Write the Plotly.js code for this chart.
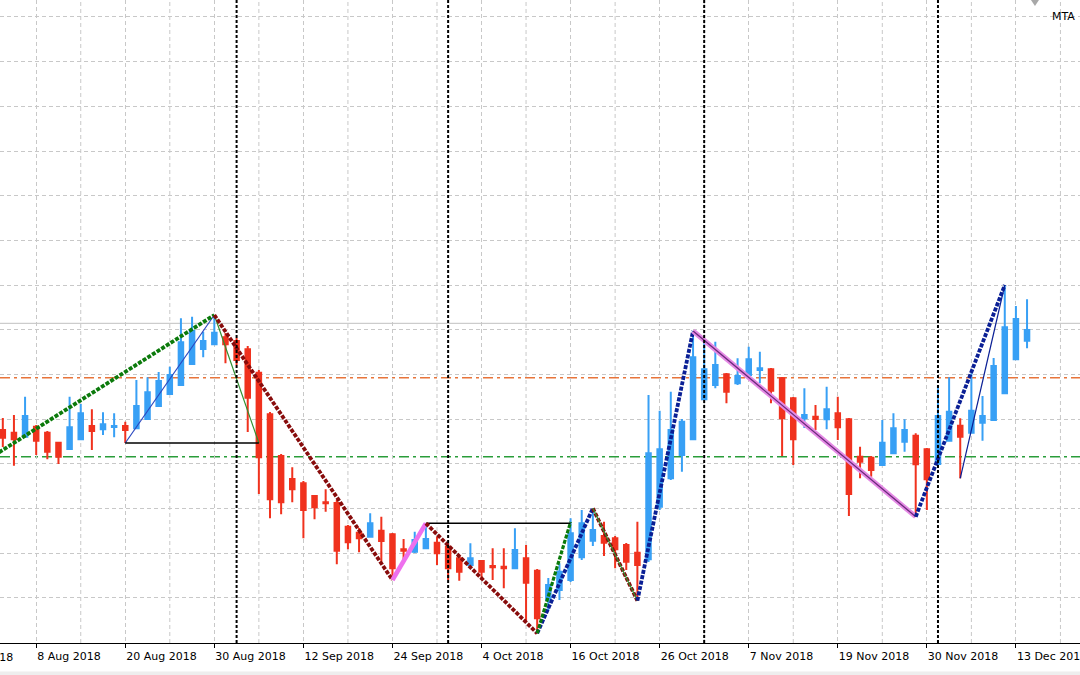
<!DOCTYPE html>
<html><head><meta charset="utf-8">
<script src="https://cdn.plot.ly/plotly-3.0.1.min.js"></script>
<style>html,body{margin:0;padding:0;background:#fff;}#chart{width:1080px;height:675px;}</style>
</head><body><div id="chart"></div>
<script>
// trading days (category axis)
const categories = ['2018-07-27','2018-07-30','2018-07-31','2018-08-01','2018-08-02',
'2018-08-03','2018-08-06','2018-08-07','2018-08-08','2018-08-09','2018-08-10','2018-08-13','2018-08-14','2018-08-15','2018-08-16','2018-08-17',
'2018-08-20','2018-08-21','2018-08-22','2018-08-23','2018-08-24','2018-08-27','2018-08-28','2018-08-29','2018-08-30','2018-08-31',
'2018-09-04','2018-09-05','2018-09-06','2018-09-07','2018-09-10','2018-09-11','2018-09-12','2018-09-13','2018-09-14','2018-09-17',
'2018-09-18','2018-09-19','2018-09-20','2018-09-21','2018-09-24','2018-09-25','2018-09-26','2018-09-27','2018-09-28','2018-10-01',
'2018-10-02','2018-10-03','2018-10-04','2018-10-05','2018-10-08','2018-10-09','2018-10-10','2018-10-11','2018-10-12','2018-10-15',
'2018-10-16','2018-10-17','2018-10-18','2018-10-19','2018-10-22','2018-10-23','2018-10-24','2018-10-25','2018-10-26','2018-10-29',
'2018-10-30','2018-10-31','2018-11-01','2018-11-02','2018-11-05','2018-11-06','2018-11-07','2018-11-08','2018-11-09','2018-11-12',
'2018-11-13','2018-11-14','2018-11-15','2018-11-16','2018-11-19','2018-11-20','2018-11-21','2018-11-23','2018-11-26','2018-11-27',
'2018-11-28','2018-11-29','2018-11-30','2018-12-03','2018-12-04','2018-12-06','2018-12-07','2018-12-10','2018-12-11','2018-12-12',
'2018-12-13','2018-12-14'];

const candleDates = categories.slice(5);

const openVals = [5.700,5.673,5.633,5.733,5.673,5.573,5.510,5.607,5.740,5.707,5.730,5.740,5.717,5.810,5.940,6.060,6.150,6.360,6.510,6.557,
6.627,6.590,6.507,6.273,5.857,5.440,5.210,5.167,5.040,4.977,4.970,4.733,4.673,4.633,4.693,4.657,4.507,4.483,4.517,4.573,
4.533,4.417,4.350,4.390,4.340,4.333,4.317,4.417,4.293,4.000,4.100,4.200,4.427,4.593,4.640,4.617,4.550,4.473,4.407,4.933,
5.217,5.450,5.607,6.007,6.150,6.257,6.167,6.250,6.300,6.307,6.217,6.017,5.817,5.833,5.807,5.867,5.807,5.433,5.423,5.350,
5.467,5.583,5.643,5.507,5.360,5.593,5.743,5.673,5.773,5.800,6.067,6.407,6.593];

const highVals = [5.820,5.850,6.033,5.750,5.690,5.583,6.033,5.960,5.907,5.877,5.867,5.783,6.200,6.227,6.280,6.333,6.817,6.833,6.683,6.850,
6.670,6.620,6.540,6.300,5.880,5.460,5.327,5.190,5.050,5.107,5.000,4.750,4.720,4.867,4.833,4.670,4.610,4.683,4.767,4.633,
4.550,4.450,4.567,4.400,4.517,4.517,4.717,4.550,4.310,4.220,4.367,4.817,4.900,4.917,4.783,4.640,4.570,4.783,6.050,5.893,
6.083,5.810,6.690,6.580,6.583,6.270,6.417,6.533,6.483,6.320,6.230,6.030,6.117,5.950,6.133,6.033,5.820,5.533,5.440,5.800,
5.867,5.807,5.667,5.520,6.140,6.227,5.817,6.267,6.040,6.420,7.150,6.940,7.007];

const lowVals = [5.530,5.343,5.630,5.450,5.407,5.360,5.505,5.600,5.500,5.650,5.627,5.570,5.710,5.805,5.935,6.055,6.145,6.355,6.427,6.550,
6.367,6.350,5.680,5.060,4.817,4.857,4.977,4.617,4.807,4.883,4.357,4.507,4.477,4.630,4.383,4.200,4.400,4.470,4.510,4.350,
4.200,4.193,4.340,4.200,4.200,4.117,4.310,3.783,3.667,3.900,4.000,4.180,4.400,4.540,4.440,4.317,4.300,3.993,4.380,4.900,
5.200,5.283,5.600,6.000,6.117,5.967,6.150,6.240,6.167,5.967,5.440,5.350,5.720,5.700,5.707,5.600,4.840,5.217,5.233,5.340,
5.460,5.483,4.833,4.900,5.340,5.590,5.217,5.670,5.593,5.795,6.060,6.400,6.517];

const closeVals = [5.623,5.607,5.840,5.593,5.483,5.433,5.727,5.867,5.690,5.757,5.740,5.700,5.940,6.077,6.190,6.250,6.577,6.693,6.590,6.673,
6.557,6.400,6.023,5.427,5.007,4.977,5.107,4.900,4.927,4.967,4.493,4.577,4.617,4.767,4.590,4.317,4.493,4.600,4.610,4.467,
4.317,4.283,4.417,4.283,4.327,4.317,4.500,4.173,3.817,4.150,4.283,4.667,4.767,4.700,4.573,4.507,4.383,4.350,5.467,5.507,
5.700,5.783,6.427,6.307,6.350,6.083,6.240,6.407,6.317,6.093,5.817,5.607,5.850,5.810,5.907,5.727,5.060,5.383,5.300,5.573,
5.717,5.700,5.357,5.207,5.840,5.883,5.633,5.893,5.840,6.340,6.727,6.810,6.700];

// zigzag swing points
const zzDates  = ['2018-08-01','2018-08-30','2018-09-24','2018-09-27','2018-10-11','2018-10-18','2018-10-24','2018-10-31','2018-11-29','2018-12-12'];
const zzPrices = [5.358, 6.850, 4.200, 4.767, 3.667, 4.917, 3.993, 6.690, 4.833, 7.150];
const legStyles = ['green','maroon','violet','maroon','navy','maroonGreen','navy','violetPurple','navy'];

// pattern lines
const patternDates  = ['2018-08-20','2018-08-30','2018-09-06'];
const patternPrices = [5.570, 6.850, 5.570];
const base2Dates = ['2018-09-27','2018-10-16'];
const base2Prices = [4.767, 4.767];
const greenLegDates = ['2018-10-11','2018-10-16'];
const greenLegPrices = [3.667, 4.780];
const thinNavyDates = ['2018-12-06','2018-12-12'];
const thinNavyPrices = [5.217, 7.150];

// horizontal levels
const bidLevel = 6.767, orangeLevel = 6.223, greenLevel = 5.433;
// month separators
const separatorDates = ['2018-09-04','2018-10-01','2018-11-01','2018-12-03'];
// axis labels
const tickDates = ['2018-08-08','2018-08-20','2018-08-30','2018-09-12','2018-09-24','2018-10-04','2018-10-16','2018-10-26','2018-11-07','2018-11-19','2018-11-30','2018-12-13'];
const tickLabels = ['8 Aug 2018','20 Aug 2018','30 Aug 2018','12 Sep 2018','24 Sep 2018','4 Oct 2018','16 Oct 2018','26 Oct 2018','7 Nov 2018','19 Nov 2018','30 Nov 2018','13 Dec 2018'];
const offLeftTickDate = '2018-07-27', offLeftTickLabel = '27 Jul 2018';

const BLUE = '#38a0f5', RED = '#f0321e';
const C = {green:'#0b7a0b', maroon:'#880c0c', violet:'#ee70ee', navy:'#0a1f95', thinGreen:'#2f8f2f', purple:'#6a2a7a', thinBlue:'#2b48c0'};
const DOT = '4px,1.5px';

const traces = [{
  type:'candlestick', x:candleDates, open:openVals, high:highVals, low:lowVals, close:closeVals,
  increasing:{line:{color:BLUE,width:2}, fillcolor:BLUE},
  decreasing:{line:{color:RED,width:2}, fillcolor:RED},
  whiskerwidth:0, hoverinfo:'skip', showlegend:false
}];

function seg(x, y, color, width, dash){
  traces.push({type:'scatter', mode:'lines', x:x, y:y, line:{color:color, width:width, dash:dash||'solid'}, hoverinfo:'skip', showlegend:false});
}
// pattern (thin) lines
seg(patternDates.slice(0,2), patternPrices.slice(0,2), C.thinBlue, 1.2);
seg(patternDates.slice(1,3), patternPrices.slice(1,3), C.thinGreen, 1.2);
seg([patternDates[0], patternDates[2]], [patternPrices[0], patternPrices[2]], '#000', 1.5);
seg(base2Dates, base2Prices, '#000', 1.5);
// zigzag legs
for (let k=0;k<legStyles.length;k++){
  const x=[zzDates[k],zzDates[k+1]], y=[zzPrices[k],zzPrices[k+1]], s=legStyles[k];
  if (s==='green') seg(x,y,C.green,3.8,DOT);
  else if (s==='maroon') seg(x,y,C.maroon,3.8,DOT);
  else if (s==='navy') seg(x,y,C.navy,3.8,DOT);
  else if (s==='violet') seg(x,y,C.violet,4.5);
  else if (s==='maroonGreen'){ seg(x,y,C.maroon,3.8,DOT); seg(x,y,C.thinGreen,1.2); }
  else if (s==='violetPurple'){ seg(x,y,'#e58ae5',5); seg(x,y,C.purple,1.3); }
}
seg(greenLegDates, greenLegPrices, C.green, 3.2, DOT);
seg(thinNavyDates, thinNavyPrices, C.navy, 1.2);

const idx = d => categories.indexOf(d);
const xRange = [idx('2018-08-08') - 3.252, idx('2018-08-08') + 93.757];

const GRID = '#c8c8c8';
const shapes = [];
// intermediate vertical gridlines (every 4 bars between labelled ticks)
for (let c = idx('2018-08-08') + 4; c <= xRange[1]; c += 8) {
  shapes.push({type:'line', xref:'x', yref:'paper', x0:c, x1:c, y0:0, y1:1, layer:'below', line:{color:GRID, width:1, dash:'4px,3px'}});
}
// horizontal levels
shapes.push({type:'line', xref:'paper', yref:'y', x0:0, x1:1, y0:bidLevel, y1:bidLevel, layer:'below', line:{color:'#c0c0c0', width:1}});
shapes.push({type:'line', xref:'paper', yref:'y', x0:0, x1:1, y0:orangeLevel, y1:orangeLevel, layer:'below', line:{color:'#e8743a', width:1.5, dash:'10px,4px,3px,4px'}});
shapes.push({type:'line', xref:'paper', yref:'y', x0:0, x1:1, y0:greenLevel, y1:greenLevel, layer:'below', line:{color:'#2a9d3a', width:1.5, dash:'10px,4px,3px,4px'}});
// month separators
separatorDates.forEach(d => shapes.push({type:'line', xref:'x', yref:'paper', x0:idx(d), x1:idx(d), y0:0, y1:1, layer:'above', line:{color:'#000', width:2, dash:'3px,2px'}}));
// shift marker triangle at top & bottom band
shapes.push({type:'path', xref:'paper', yref:'paper', path:'M 0.9546 1 L 0.9620 1 L 0.9583 0.9907 Z', fillcolor:'#a8a8a8', line:{width:0}});
shapes.push({type:'rect', xref:'paper', yref:'paper', x0:0, x1:1, y0:-0.0498, y1:-0.0445, fillcolor:'#eeeeee', line:{width:0}, layer:'below'});

const FONT = {family:'DejaVu Sans, Verdana, sans-serif', size:11, color:'#000'};

const layout = {
  width:1080, height:675,
  margin:{l:0, r:0, t:0, b:32, pad:0},
  paper_bgcolor:'#fff', plot_bgcolor:'#fff',
  showlegend:false, boxgap:0.42, dragmode:false,
  font:FONT,
  xaxis:{type:'category', categoryorder:'array', categoryarray:categories, range:xRange,
    tickmode:'array', tickvals:tickDates, ticktext:tickLabels, tickfont:FONT,
    ticks:'outside', ticklen:4, tickwidth:1, tickcolor:'#000', ticklabelposition:'outside right', ticklabelstandoff:3,
    showgrid:true, gridcolor:GRID, gridwidth:1, griddash:'4px,3px',
    showline:true, linecolor:'#000', linewidth:1, mirror:true,
    rangeslider:{visible:false}, fixedrange:true, zeroline:false},
  yaxis:{type:'linear', range:[3.57, 10.0], showticklabels:false, ticks:'',
    tickmode:'linear', tick0:4.023, dtick:0.4467,
    showgrid:true, gridcolor:GRID, gridwidth:1, griddash:'4px,3px',
    zeroline:false, showline:false, fixedrange:true},
  shapes:shapes,
  annotations:[
    {xref:'paper', yref:'paper', x:(idx(offLeftTickDate)-xRange[0])/(xRange[1]-xRange[0]), y:0, xanchor:'left', yanchor:'top', yshift:-6, xshift:2,
     text:offLeftTickLabel, showarrow:false, font:FONT},
    {xref:'paper', yref:'paper', x:0.9722, y:0.974, xanchor:'left', yanchor:'middle', text:'MTA', showarrow:false, font:FONT}
  ]
};

Plotly.newPlot('chart', traces, layout, {displayModeBar:false, staticPlot:true});
</script>
</body></html>
